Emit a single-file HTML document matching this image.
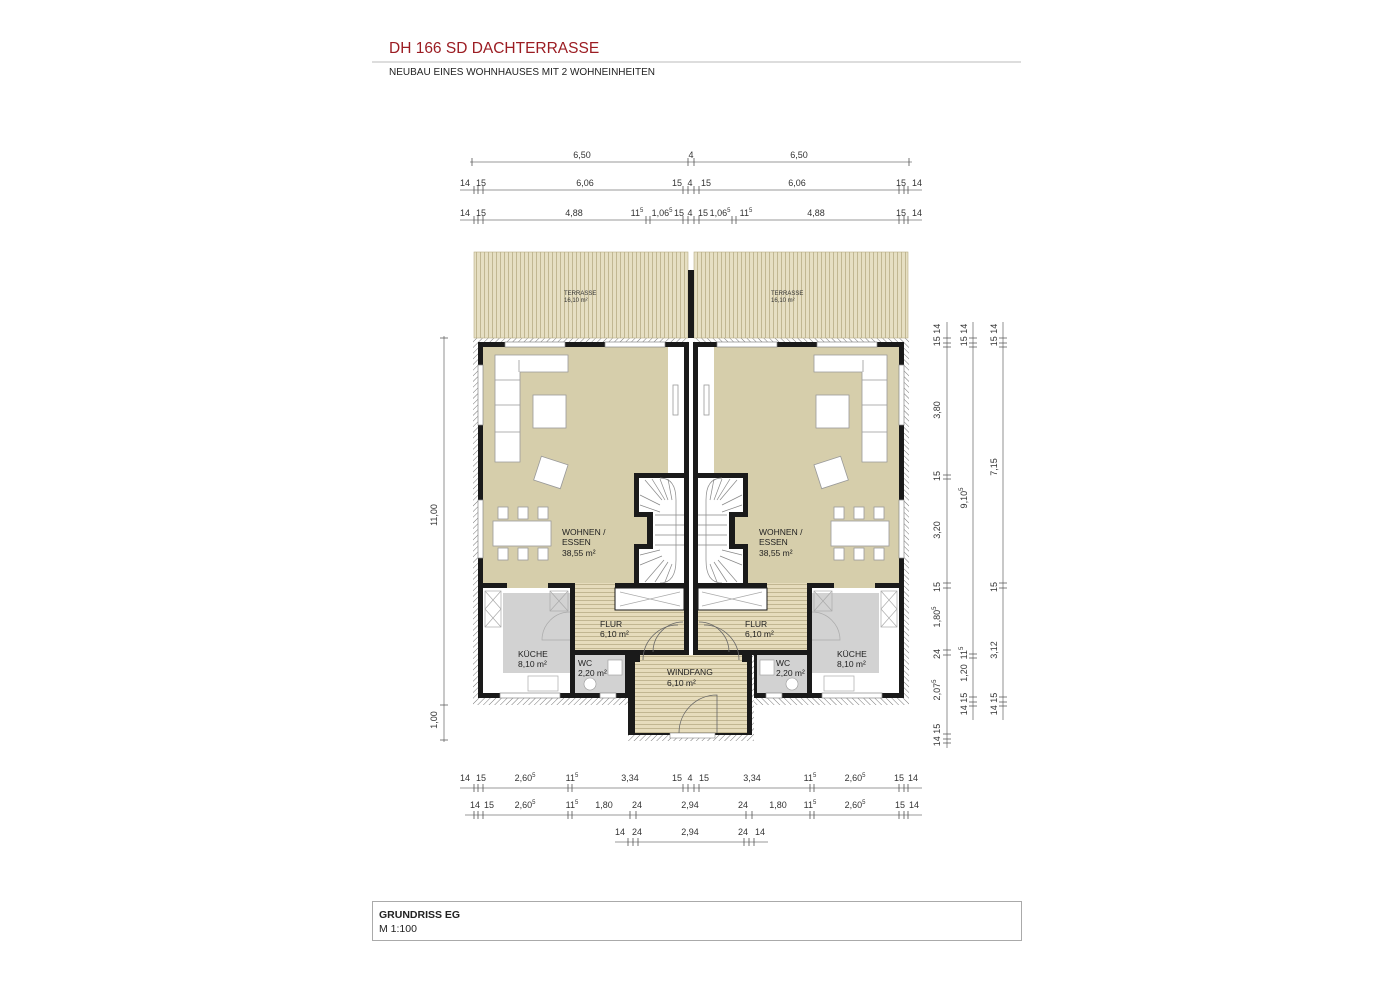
<!DOCTYPE html>
<html><head><meta charset="utf-8"><style>
html,body{margin:0;padding:0;background:#fff;}
svg{display:block;font-family:"Liberation Sans",sans-serif;}
</style></head><body>
<svg width="1400" height="989" viewBox="0 0 1400 989" xmlns="http://www.w3.org/2000/svg">
<defs>
<pattern id="hatch" width="4" height="4" patternUnits="userSpaceOnUse" patternTransform="rotate(45)"><rect width="4" height="4" fill="#fff"/><line x1="0" y1="0" x2="0" y2="4" stroke="#777" stroke-width="1"/></pattern>
<pattern id="vstripe" width="4" height="10" patternUnits="userSpaceOnUse"><rect width="4" height="10" fill="#e6dfc3"/><line x1="0.5" y1="0" x2="0.5" y2="10" stroke="#b8ad86" stroke-width="0.8"/></pattern>
<pattern id="hstripe" width="10" height="4" patternUnits="userSpaceOnUse"><rect width="10" height="4" fill="#e6dcbc"/><line x1="0" y1="0.5" x2="10" y2="0.5" stroke="#b8ad86" stroke-width="0.8"/></pattern>
<g id="unit">
 <!-- exterior hatch -->
 <rect x="473" y="338" width="215" height="367" fill="url(#hatch)"/>
 <!-- walls -->
 <rect x="478" y="342" width="210" height="356" fill="#1a1a1a"/>
 <!-- living -->
 <rect x="483" y="347" width="185" height="236" fill="#d6ceab"/>
 <rect x="668" y="347" width="16" height="128" fill="#fff"/>
 <rect x="673" y="385" width="5" height="30" fill="none" stroke="#999" stroke-width="0.8"/>
 <!-- stair -->
 <rect x="634" y="473" width="50" height="110" fill="#1a1a1a"/>
 <rect x="639" y="478" width="45" height="105" fill="#fff"/>
 <g stroke="#888" stroke-width="0.7" fill="none">
  <path d="M660 478 Q676 478 676 500 L676 560 Q676 583 660 583"/>
  <line x1="645" y1="480" x2="662" y2="500"/><line x1="652" y1="479" x2="665" y2="500"/><line x1="660" y1="479" x2="668" y2="500"/><line x1="668" y1="479" x2="672" y2="500"/>
  <line x1="640" y1="495" x2="660" y2="505"/><line x1="640" y1="505" x2="660" y2="512"/>
  <line x1="655" y1="515" x2="684" y2="515"/><line x1="655" y1="525" x2="684" y2="525"/><line x1="655" y1="535" x2="684" y2="535"/><line x1="655" y1="545" x2="684" y2="545"/>
  <line x1="640" y1="555" x2="660" y2="550"/><line x1="640" y1="565" x2="662" y2="556"/><line x1="645" y1="582" x2="664" y2="560"/><line x1="655" y1="582" x2="668" y2="562"/><line x1="665" y1="582" x2="672" y2="564"/>
 </g>
 <rect x="639" y="512" width="14" height="37" fill="#1a1a1a"/>
 <rect x="634" y="517" width="13" height="27" fill="#d6ceab"/>
 <!-- bottom zone -->
 <rect x="483" y="588" width="87" height="105" fill="#fff"/>
 <rect x="503" y="593" width="67" height="80" fill="#d2d2d2"/>
 <rect x="507" y="583" width="41" height="5" fill="#d6ceab"/>
 <g stroke="#aaa" stroke-width="0.7" fill="none">
  <rect x="485" y="591" width="16" height="36"/><line x1="485" y1="591" x2="501" y2="609"/><line x1="501" y1="591" x2="485" y2="609"/><line x1="485" y1="609" x2="501" y2="627"/><line x1="501" y1="609" x2="485" y2="627"/>
  <rect x="550" y="591" width="18" height="20"/><line x1="550" y1="591" x2="568" y2="611"/><line x1="568" y1="591" x2="550" y2="611"/>
  <rect x="528" y="676" width="30" height="15"/>
  <path d="M570 612 A28 28 0 0 0 542 640 L570 640"/>
 </g>
 <rect x="575" y="588" width="109" height="62" fill="url(#hstripe)"/>
 <rect x="575" y="583" width="40" height="5" fill="url(#hstripe)"/>
 <rect x="615" y="588" width="69" height="22" fill="#fff" stroke="#1a1a1a" stroke-width="1"/>
 <g stroke="#aaa" stroke-width="0.7"><line x1="620" y1="592" x2="680" y2="606"/><line x1="680" y1="592" x2="620" y2="606"/></g>
 <path d="M683 622 A30 30 0 0 0 653 652" fill="none" stroke="#666" stroke-width="0.8"/>
 <rect x="575" y="655" width="50" height="38" fill="#d2d2d2"/>
 <rect x="608" y="660" width="14" height="15" fill="#fff" stroke="#999" stroke-width="0.6"/>
 <circle cx="590" cy="684" r="6" fill="#fff" stroke="#999" stroke-width="0.6"/>
 <rect x="570" y="650" width="65" height="5" fill="#1a1a1a"/>
 <rect x="625" y="655" width="5" height="43" fill="#1a1a1a"/>
 <!-- windows -->
 <g fill="#fff" stroke="#888" stroke-width="0.7">
  <rect x="505" y="342" width="60" height="5"/><rect x="605" y="342" width="60" height="5"/>
  <rect x="478" y="365" width="5" height="60"/><rect x="478" y="500" width="5" height="58"/>
  <rect x="500" y="693" width="60" height="5"/><rect x="600" y="693" width="16" height="5"/>
 </g>
 <g fill="#fff" stroke="#999" stroke-width="0.8">
  <!-- sofa -->
  <path d="M495 355 L568 355 L568 372 L520 372 L520 462 L495 462 Z"/>
  <line x1="519" y1="360" x2="519" y2="372"/><line x1="495" y1="380" x2="520" y2="380"/><line x1="495" y1="405" x2="520" y2="405"/><line x1="495" y1="432" x2="520" y2="432"/>
  <rect x="533" y="395" width="33" height="33"/>
  <rect x="537" y="460" width="28" height="25" transform="rotate(18 551 472)"/>
  <rect x="493" y="521" width="58" height="25"/>
  <rect x="498" y="507" width="10" height="12"/><rect x="518" y="507" width="10" height="12"/><rect x="538" y="507" width="10" height="12"/>
  <rect x="498" y="548" width="10" height="12"/><rect x="518" y="548" width="10" height="12"/><rect x="538" y="548" width="10" height="12"/>
 </g>
 <!-- walls internal -->
 <rect x="478" y="583" width="29" height="5" fill="#1a1a1a"/>
 <rect x="548" y="583" width="27" height="5" fill="#1a1a1a"/>
 <rect x="570" y="583" width="5" height="115" fill="#1a1a1a"/>
 <rect x="615" y="583" width="69" height="5" fill="#1a1a1a"/>
 <!-- party wall -->
 <rect x="684" y="342" width="5" height="320" fill="#1a1a1a"/>
 <rect x="689" y="342" width="2" height="320" fill="#fff"/>
 <!-- terrace -->
 <rect x="474" y="252" width="214" height="86" fill="url(#vstripe)" stroke="#b8ad86" stroke-width="0.6"/>
</g>
</defs>

<!-- header -->
<text x="389" y="53" font-size="15.5" fill="#9b1c22">DH 166 SD DACHTERRASSE</text>
<line x1="372" y1="62" x2="1021" y2="62" stroke="#bbb" stroke-width="1"/>
<text x="389" y="75" font-size="10" fill="#222">NEUBAU EINES WOHNHAUSES MIT 2 WOHNEINHEITEN</text>

<use href="#unit"/>
<use href="#unit" transform="translate(1382,0) scale(-1,1)"/>
<rect x="688" y="270" width="6" height="68" fill="#1a1a1a"/>

<!-- windfang -->
<rect x="628" y="655" width="126" height="86" fill="url(#hatch)"/>
<rect x="628" y="655" width="124" height="80" fill="#1a1a1a"/>
<rect x="635" y="662" width="112" height="71" fill="url(#hstripe)"/>
<rect x="640" y="655" width="102" height="7" fill="url(#hstripe)"/>
<rect x="670" y="733" width="45" height="5" fill="#fff" stroke="#888" stroke-width="0.6"/>
<path d="M717 733 L717 695 A38 38 0 0 0 679 733" fill="none" stroke="#666" stroke-width="0.8"/>
<path d="M643 660 A35 35 0 0 1 678 625 M739 660 A35 35 0 0 0 704 625" fill="none" stroke="#666" stroke-width="0.8"/>

<!-- room labels -->
<g font-size="8.5" fill="#222">
<text x="562" y="535">WOHNEN /</text><text x="562" y="545">ESSEN</text><text x="562" y="556">38,55 m²</text>
<text x="759" y="535">WOHNEN /</text><text x="759" y="545">ESSEN</text><text x="759" y="556">38,55 m²</text>
<text x="600" y="627">FLUR</text><text x="600" y="637">6,10 m²</text>
<text x="745" y="627">FLUR</text><text x="745" y="637">6,10 m²</text>
<text x="518" y="657">KÜCHE</text><text x="518" y="667">8,10 m²</text>
<text x="837" y="657">KÜCHE</text><text x="837" y="667">8,10 m²</text>
<text x="578" y="666">WC</text><text x="578" y="676">2,20 m²</text>
<text x="776" y="666">WC</text><text x="776" y="676">2,20 m²</text>
<text x="667" y="675">WINDFANG</text><text x="667" y="686">6,10 m²</text>
</g>
<g font-size="6" fill="#333">
<text x="564" y="295">TERRASSE</text><text x="564" y="302">16,10 m²</text>
<text x="771" y="295">TERRASSE</text><text x="771" y="302">16,10 m²</text>
</g>

<!-- dimension lines -->
<g stroke="#777" stroke-width="0.8">
<line x1="470" y1="162" x2="912" y2="162"/>
<line x1="460" y1="190" x2="922" y2="190"/>
<line x1="460" y1="220" x2="922" y2="220"/>
<line x1="460" y1="788" x2="922" y2="788"/>
<line x1="465" y1="815" x2="922" y2="815"/>
<line x1="615" y1="842" x2="768" y2="842"/>
<line x1="444" y1="336" x2="444" y2="742"/>
<line x1="947" y1="322" x2="947" y2="748"/>
<line x1="973" y1="322" x2="973" y2="720"/>
<line x1="1003" y1="322" x2="1003" y2="720"/>
</g>
<g stroke="#555" stroke-width="0.8">
<path d="M472 158v8M688 158v8M694 158v8M909 158v8"/>
<path d="M474 186v8M478 186v8M483 186v8M683 186v8M688 186v8M694 186v8M699 186v8M899 186v8M904 186v8M908 186v8"/>
<path d="M474 216v8M478 216v8M483 216v8M646 216v8M650 216v8M683 216v8M688 216v8M694 216v8M699 216v8M732 216v8M736 216v8M899 216v8M904 216v8M908 216v8"/>
<path d="M474 784v8M478 784v8M483 784v8M568 784v8M572 784v8M683 784v8M688 784v8M694 784v8M699 784v8M810 784v8M814 784v8M899 784v8M904 784v8M908 784v8"/>
<path d="M474 811v8M478 811v8M483 811v8M568 811v8M572 811v8M630 811v8M636 811v8M746 811v8M752 811v8M810 811v8M814 811v8M899 811v8M904 811v8M908 811v8"/>
<path d="M628 838v8M633 838v8M638 838v8M744 838v8M749 838v8M754 838v8"/>
<path d="M440 338h8M440 705h8M440 740h8"/>
<path d="M943 338h8M943 343h8M943 347h8M943 475h8M943 479h8M943 583h8M943 588h8M943 650h8M943 655h8M943 734h8M943 739h8M943 743h8"/>
<path d="M969 338h8M969 343h8M969 347h8M969 654h8M969 658h8M969 697h8M969 702h8M969 706h8"/>
<path d="M999 338h8M999 343h8M999 347h8M999 583h8M999 588h8M999 697h8M999 702h8M999 706h8"/>
</g>
<g font-size="9" fill="#333" text-anchor="middle">
<text x="582" y="158">6,50</text><text x="691" y="158">4</text><text x="799" y="158">6,50</text>
<text x="465" y="186">14</text><text x="481" y="186">15</text><text x="585" y="186">6,06</text><text x="677" y="186">15</text><text x="690" y="186">4</text><text x="706" y="186">15</text><text x="797" y="186">6,06</text><text x="901" y="186">15</text><text x="917" y="186">14</text>
<text x="465" y="216">14</text><text x="481" y="216">15</text><text x="574" y="216">4,88</text><text x="637" y="216">11<tspan font-size="6" dy="-4">5</tspan></text><text x="662" y="216">1,06<tspan font-size="6" dy="-4">5</tspan></text><text x="679" y="216">15</text><text x="690" y="216">4</text><text x="703" y="216">15</text><text x="720" y="216">1,06<tspan font-size="6" dy="-4">5</tspan></text><text x="746" y="216">11<tspan font-size="6" dy="-4">5</tspan></text><text x="816" y="216">4,88</text><text x="901" y="216">15</text><text x="917" y="216">14</text>
<text x="465" y="781">14</text><text x="481" y="781">15</text><text x="525" y="781">2,60<tspan font-size="6" dy="-4">5</tspan></text><text x="572" y="781">11<tspan font-size="6" dy="-4">5</tspan></text><text x="630" y="781">3,34</text><text x="677" y="781">15</text><text x="690" y="781">4</text><text x="704" y="781">15</text><text x="752" y="781">3,34</text><text x="810" y="781">11<tspan font-size="6" dy="-4">5</tspan></text><text x="855" y="781">2,60<tspan font-size="6" dy="-4">5</tspan></text><text x="899" y="781">15</text><text x="913" y="781">14</text>
<text x="475" y="808">14</text><text x="489" y="808">15</text><text x="525" y="808">2,60<tspan font-size="6" dy="-4">5</tspan></text><text x="572" y="808">11<tspan font-size="6" dy="-4">5</tspan></text><text x="604" y="808">1,80</text><text x="637" y="808">24</text><text x="690" y="808">2,94</text><text x="743" y="808">24</text><text x="778" y="808">1,80</text><text x="810" y="808">11<tspan font-size="6" dy="-4">5</tspan></text><text x="855" y="808">2,60<tspan font-size="6" dy="-4">5</tspan></text><text x="900" y="808">15</text><text x="914" y="808">14</text>
<text x="620" y="835">14</text><text x="637" y="835">24</text><text x="690" y="835">2,94</text><text x="743" y="835">24</text><text x="760" y="835">14</text>
<g transform="rotate(-90)">
<text x="-515" y="437">11,00</text><text x="-720" y="437">1,00</text>
<text x="-335" y="940">15 14</text><text x="-410" y="940">3,80</text><text x="-476" y="940">15</text><text x="-530" y="940">3,20</text><text x="-587" y="940">15</text><text x="-617" y="940">1,80<tspan font-size="6" dy="-4">5</tspan></text><text x="-654" y="940">24</text><text x="-690" y="940">2,07<tspan font-size="6" dy="-4">5</tspan></text><text x="-735" y="940">14 15</text>
<text x="-335" y="967">15 14</text><text x="-498" y="967">9,10<tspan font-size="6" dy="-4">5</tspan></text><text x="-653" y="967">11<tspan font-size="6" dy="-4">5</tspan></text><text x="-673" y="967">1,20</text><text x="-704" y="967">14 15</text>
<text x="-335" y="997">15 14</text><text x="-467" y="997">7,15</text><text x="-587" y="997">15</text><text x="-650" y="997">3,12</text><text x="-704" y="997">14 15</text>
</g>
</g>

<!-- footer box -->
<rect x="372.5" y="901.5" width="649" height="39" fill="#fff" stroke="#aaa" stroke-width="1"/>
<text x="379" y="918" font-size="10.5" font-weight="bold" fill="#222">GRUNDRISS EG</text>
<text x="379" y="932" font-size="10.5" fill="#222">M 1:100</text>
</svg>
</body></html>
